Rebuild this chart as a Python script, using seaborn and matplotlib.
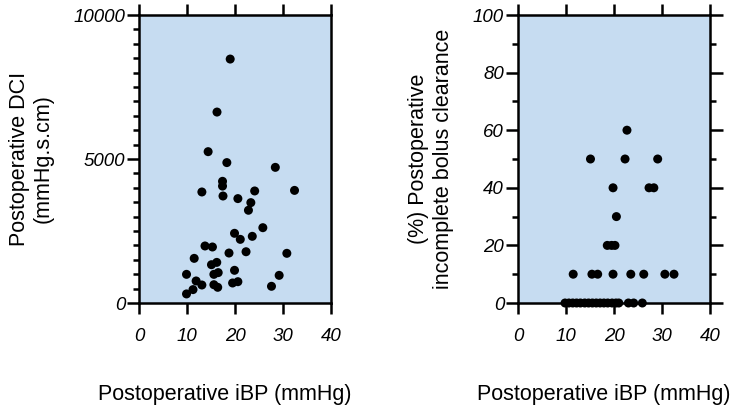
import matplotlib
matplotlib.use("Agg")
import matplotlib.pyplot as plt
import numpy as np
import pandas as pd
import seaborn as sns
from matplotlib.ticker import MultipleLocator

# left panel: postoperative iBP vs DCI
ibp_dci = [19.0, 16.25, 14.4, 18.3, 28.4, 17.4, 17.4, 13.1, 24.1, 32.4,
           17.5, 20.6, 23.3, 22.8, 25.8, 19.9, 21.1, 23.6, 13.75, 15.3,
           18.75, 22.3, 30.8, 11.5, 15.1, 16.2, 19.9, 9.9, 15.6, 16.5,
           29.2, 11.9, 13.1, 15.6, 16.4, 19.5, 20.6, 27.6, 11.25, 9.9]
dci = [8470, 6630, 5255, 4875, 4710, 4225, 4060, 3855, 3890, 3910,
       3715, 3625, 3485, 3220, 2615, 2420, 2210, 2315, 1980, 1945,
       1735, 1780, 1725, 1550, 1330, 1410, 1135, 995, 995, 1055,
       960, 765, 625, 635, 545, 695, 740, 580, 465, 315]

# right panel: postoperative iBP vs incomplete bolus clearance (%)
ibp_ibc = [22.7, 15.1, 22.3, 29.1, 19.8, 27.3, 28.3, 20.5, 18.6, 19.5,
           20.2, 11.5, 15.4, 16.6, 19.8, 23.5, 26.2, 30.6, 32.5,
           9.8, 10.6, 11.4, 12.2, 13.0, 13.9, 14.7, 15.5, 16.3, 17.1,
           17.9, 18.7, 19.6, 20.4, 21.0, 23.0, 24.1, 25.9]
ibc = [60, 50, 50, 50, 40, 40, 40, 30, 20, 20,
       20, 10, 10, 10, 10, 10, 10, 10, 10,
       0, 0, 0, 0, 0, 0, 0, 0, 0, 0,
       0, 0, 0, 0, 0, 0, 0, 0]

x_ticks = [0, 10, 20, 30, 40]
x_label = "Postoperative iBP (mmHg)"

left_df = pd.DataFrame({"ibp": ibp_dci, "dci": dci})
right_df = pd.DataFrame({"ibp": ibp_ibc, "ibc": ibc})

sns.set_theme(style="ticks")
plt.rcParams["font.family"] = ["Liberation Sans", "DejaVu Sans"]
for key in ("text.color", "axes.labelcolor", "xtick.color", "ytick.color"):
    plt.rcParams[key] = "black"

bg = "#C6DCF1"
fig = plt.figure(figsize=(7.51, 4.15), dpi=100)
ax1 = fig.add_axes([139 / 751, 1 - 303 / 415, 192 / 751, 288 / 415])
ax2 = fig.add_axes([518 / 751, 1 - 303 / 415, 192 / 751, 288 / 415])

sns.scatterplot(data=left_df, x="ibp", y="dci", ax=ax1, color="black", s=42, edgecolor="none", clip_on=False, zorder=5)
sns.scatterplot(data=right_df, x="ibp", y="ibc", ax=ax2, color="black", s=42, edgecolor="none", clip_on=False, zorder=5)

ax1.set_ylim(0, 10000)
ax1.yaxis.set_major_locator(MultipleLocator(5000))
ax1.yaxis.set_minor_locator(MultipleLocator(500))
ax1.set_ylabel("Postoperative DCI\n(mmHg.s.cm)", fontsize=15.5, labelpad=14)

ax2.set_ylim(0, 100)
ax2.yaxis.set_major_locator(MultipleLocator(20))
ax2.yaxis.set_minor_locator(MultipleLocator(10))
ax2.set_ylabel("(%) Postoperative\nincomplete bolus clearance", fontsize=15.5, labelpad=14)
ax2.tick_params(axis="y", which="both", right=True)

for ax in (ax1, ax2):
    ax.set_facecolor(bg)
    ax.set_xlim(0, 40)
    ax.set_xticks(x_ticks)
    ax.set_xlabel(x_label, fontsize=15.5, labelpad=30)
    ax.xaxis.set_label_coords(0.445, -0.28)
    for sp in ax.spines.values():
        sp.set_visible(True)
        sp.set_linewidth(1.8)
        sp.set_color("black")
    ax.tick_params(axis="x", which="major", top=True, direction="out", length=8, width=1.8, pad=10)
    ax.tick_params(axis="y", which="major", direction="out", length=9, width=1.8, pad=1)
    ax.tick_params(axis="y", which="minor", direction="out", length=4.5, width=1.8)
    ax.tick_params(labelsize=13.5)
    for lab in ax.get_xticklabels() + ax.get_yticklabels():
        lab.set_fontstyle("italic")

fig.savefig("out.png", dpi=100)
